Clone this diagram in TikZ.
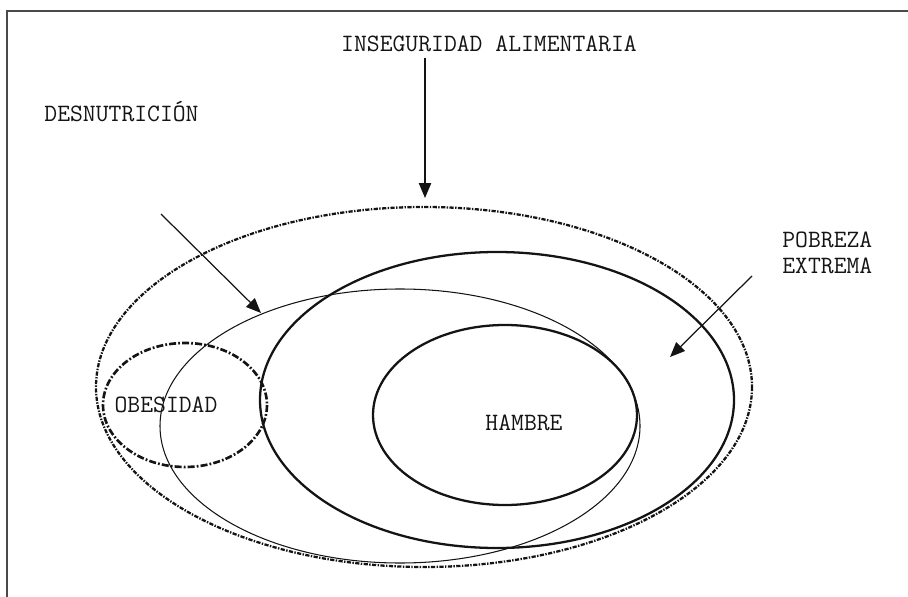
\documentclass[tikz,border=0pt]{standalone}
\usetikzlibrary{arrows.meta}
\definecolor{scanink}{HTML}{141414}
\definecolor{scanframe}{HTML}{4A4A4A}

\begin{document}
\begin{tikzpicture}[
  x=0.02cm,
  y=-0.02cm,
  every node/.style={font=\ttfamily\fontsize{14.2}{14.8}\selectfont, scanink, inner sep=0pt},
  pointer/.style={scanink, line width=0.7pt, -{Triangle[length=8.5pt, width=7pt]}},
  frame/.style={scanframe, line width=1.1pt},
  solidring/.style={scanink, line width=1.3pt},
  thinring/.style={scanink, line width=0.6pt},
  dotring/.style={scanink, line width=1.3pt, dash pattern=on 2.4pt off 0.8pt on 0.8pt off 0.8pt},
  obring/.style={scanink, line width=1.5pt, dash pattern=on 4pt off 1.2pt on 1pt off 1.2pt}
]
  \useasboundingbox (0,0) rectangle (908,597);

  % ---- the scanned frame (only top and left survive) -------------------
  \draw[frame] (908,11) -- (7,11) -- (7,597);

  % ---- the rings -------------------------------------------------------
  \draw[dotring] (424,387) ellipse [x radius=328, y radius=180];
  \draw[thinring] (400,426) ellipse [x radius=240, y radius=137];
  \draw[solidring] (497,400) ellipse [x radius=237, y radius=148];
  \draw[solidring] (505,415) ellipse [x radius=132, y radius=90];
  \draw[obring] (185,405) ellipse [x radius=82, y radius=62];

  % ---- labels ----------------------------------------------------------
  \node (inseg) at (489,44) {INSEGURIDAD ALIMENTARIA};
  \node (desnut) at (121.5,112) {DESNUTRICIÓN};
  \node[anchor=west, align=left] (pobreza) at (782,253) {POBREZA\\EXTREMA};
  \node (obesidad) at (166,405) {OBESIDAD};
  \node (hambre) at (524,423) {HAMBRE};

  % ---- the pointers ----------------------------------------------------
  \coordinate (insegfoot) at (425,58);
  \coordinate (insegtip) at (425,198);
  \coordinate (desnutfoot) at (161,214);
  \coordinate (desnuttip) at (261,313);
  \coordinate (pobrezafoot) at (752,276);
  \coordinate (pobrezatip) at (670,357);
  \draw[pointer] (insegfoot) -- (insegtip);
  \draw[pointer] (desnutfoot) -- (desnuttip);
  \draw[pointer] (pobrezafoot) -- (pobrezatip);
\end{tikzpicture}
\end{document}
